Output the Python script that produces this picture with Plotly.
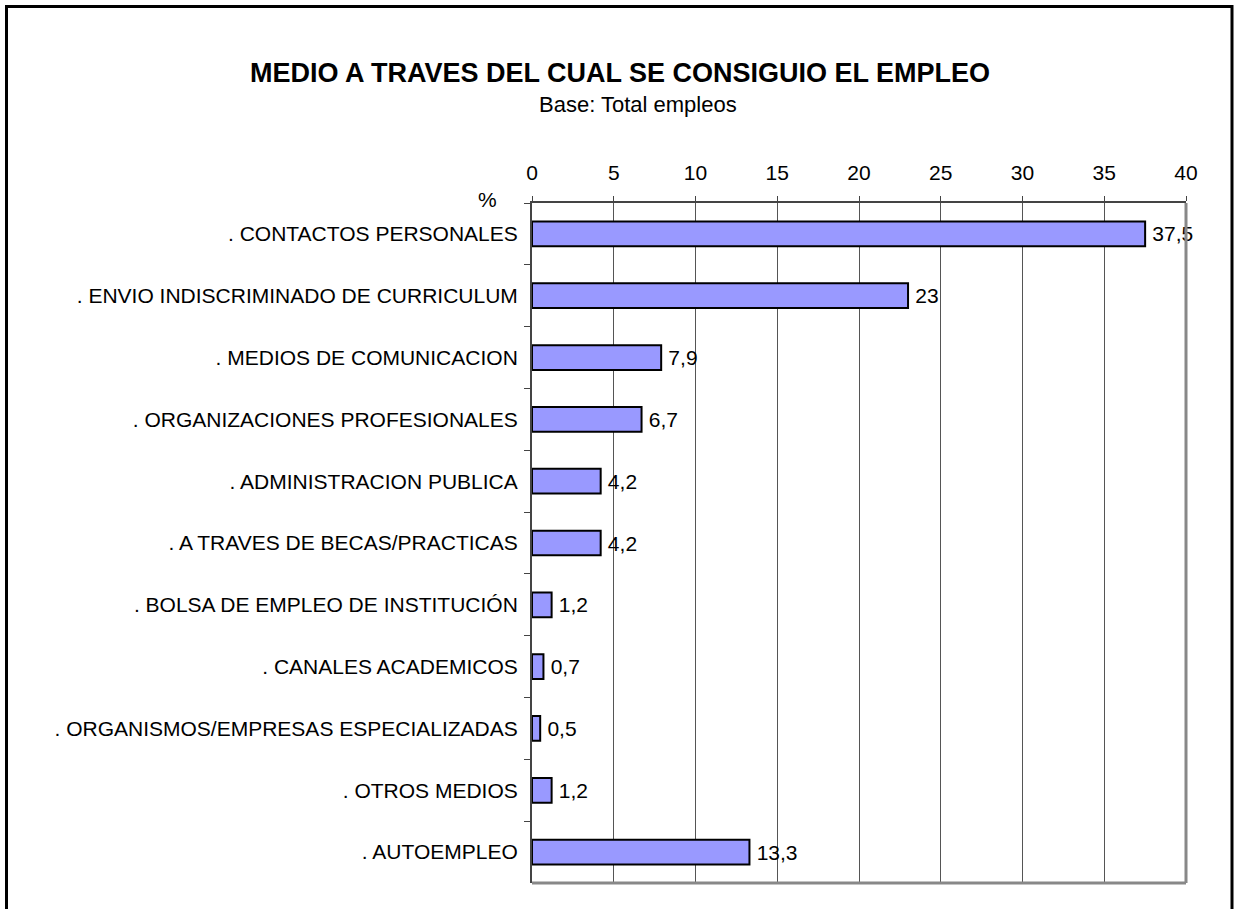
import plotly.graph_objects as go

categories = [
    ". CONTACTOS PERSONALES",
    ". ENVIO INDISCRIMINADO DE CURRICULUM",
    ". MEDIOS DE COMUNICACION",
    ". ORGANIZACIONES PROFESIONALES",
    ". ADMINISTRACION PUBLICA",
    ". A TRAVES DE BECAS/PRACTICAS",
    ". BOLSA DE EMPLEO DE INSTITUCIÓN",
    ". CANALES ACADEMICOS",
    ". ORGANISMOS/EMPRESAS ESPECIALIZADAS",
    ". OTROS MEDIOS",
    ". AUTOEMPLEO",
]
values = [37.5, 23, 7.9, 6.7, 4.2, 4.2, 1.2, 0.7, 0.5, 1.2, 13.3]
tick_vals = [0, 5, 10, 15, 20, 25, 30, 35, 40]

W, H = 1234, 909
L, R, T, B = 532, 1186, 203, 883

def px(x):
    return (x - L) / (R - L)

def py(y):
    return (B - y) / (B - T)

font = "Liberation Sans, Arial, sans-serif"

fig = go.Figure(go.Bar(
    x=values, y=categories, orientation="h",
    marker=dict(color="#9999FF", line=dict(color="black", width=2)),
    width=0.4,
    texttemplate="\u2009%{x}", textposition="outside",
    textfont=dict(family=font, size=21, color="black"),
    cliponaxis=False,
))

fig.update_layout(
    width=W, height=H,
    margin=dict(l=L, r=W - R, t=T, b=H - B),
    paper_bgcolor="white", plot_bgcolor="white",
    separators=",.",
    showlegend=False,
    font=dict(family=font, size=21, color="black"),
    xaxis=dict(
        side="top", range=[0, 40], tickvals=tick_vals,
        showgrid=True, gridcolor="#555555", gridwidth=1,
        showline=True, linecolor="#444444", linewidth=2,
        ticks="outside", ticklen=5, tickcolor="#444444",
        tickfont=dict(size=21), zeroline=False,
        ticklabelstandoff=8,
    ),
    yaxis=dict(
        autorange="reversed", categoryorder="array", categoryarray=categories,
        showline=True, linecolor="#444444", linewidth=2,
        ticks="outside", ticklen=6, tickcolor="#444444",
        tickson="boundaries", showgrid=False,
        tickfont=dict(size=21), ticklabelstandoff=8,
    ),
    shapes=[
        dict(type="line", xref="paper", yref="paper", x0=1, x1=1, y0=0, y1=1,
             line=dict(color="#888888", width=3)),
        dict(type="line", xref="paper", yref="paper", x0=0, x1=1, y0=0, y1=0,
             line=dict(color="#888888", width=3)),
        dict(type="rect", xref="paper", yref="paper",
             x0=px(6.5), x1=px(1232), y0=py(925), y1=py(6.5),
             line=dict(color="black", width=3), fillcolor="rgba(0,0,0,0)"),
    ],
    annotations=[
        dict(text="<b>MEDIO A TRAVES DEL CUAL SE CONSIGUIO EL EMPLEO</b>",
             xref="paper", yref="paper", x=px(620), y=py(73),
             showarrow=False, font=dict(size=27), xanchor="center", yanchor="middle"),
        dict(text="Base: Total empleos",
             xref="paper", yref="paper", x=px(638), y=py(104),
             showarrow=False, font=dict(size=22), xanchor="center", yanchor="middle"),
        dict(text="%", xref="paper", yref="paper", x=px(487), y=py(199),
             showarrow=False, font=dict(size=21), xanchor="center", yanchor="middle"),
    ],
)

fig.write_html(
    "out.html",
    config={"displayModeBar": False},
    post_script="document.body.style.margin='0';document.body.style.overflow='hidden';",
)
